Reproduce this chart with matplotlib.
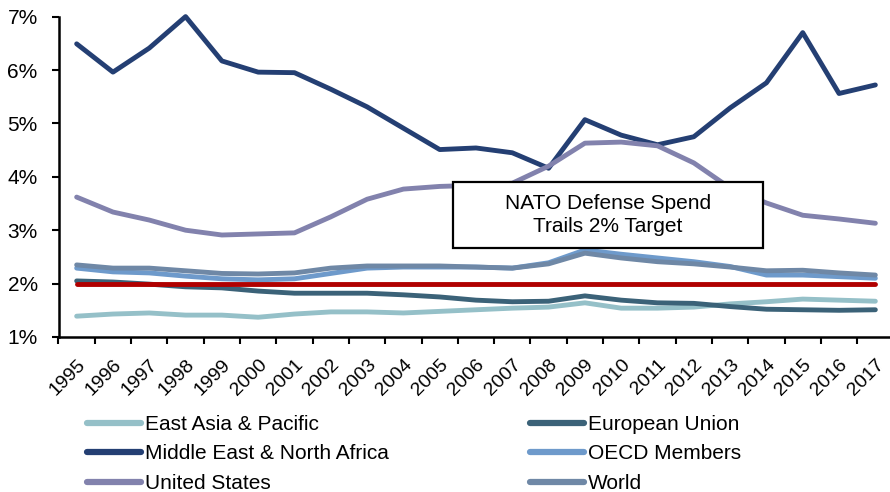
import matplotlib
matplotlib.use("Agg")
import matplotlib.pyplot as plt
from matplotlib.patches import Rectangle
from matplotlib.lines import Line2D
import numpy as np

plt.rcParams['font.family'] = ['Liberation Sans', 'DejaVu Sans']

years = list(range(1995, 2018))

east_asia = [1.39, 1.43, 1.45, 1.41, 1.41, 1.37, 1.43, 1.47, 1.47, 1.45, 1.48,
             1.51, 1.54, 1.56, 1.64, 1.54, 1.54, 1.56, 1.62, 1.66, 1.71, 1.69, 1.67]
eu = [2.05, 2.03, 1.99, 1.94, 1.92, 1.86, 1.82, 1.82, 1.82, 1.79, 1.75,
      1.69, 1.66, 1.67, 1.77, 1.69, 1.64, 1.63, 1.57, 1.52, 1.51, 1.50, 1.51]
mena = [6.49, 5.96, 6.41, 7.00, 6.17, 5.96, 5.95, 5.64, 5.31, 4.91, 4.51,
        4.54, 4.45, 4.16, 5.07, 4.78, 4.60, 4.75, 5.29, 5.76, 6.70, 5.56, 5.72]
oecd = [2.29, 2.22, 2.20, 2.14, 2.09, 2.07, 2.09, 2.19, 2.29, 2.31, 2.31,
        2.31, 2.29, 2.39, 2.63, 2.55, 2.48, 2.41, 2.32, 2.16, 2.16, 2.13, 2.10]
usa = [3.62, 3.34, 3.19, 3.00, 2.91, 2.93, 2.95, 3.25, 3.58, 3.77, 3.82,
       3.84, 3.88, 4.20, 4.63, 4.65, 4.58, 4.26, 3.79, 3.51, 3.28, 3.21, 3.13]
world = [2.35, 2.29, 2.29, 2.24, 2.19, 2.18, 2.20, 2.29, 2.33, 2.33, 2.33,
         2.31, 2.29, 2.37, 2.57, 2.48, 2.41, 2.37, 2.31, 2.24, 2.25, 2.20, 2.16]
nato_target = [2.0] * len(years)

series = [
    ("East Asia & Pacific", east_asia, "#95c0c8"),
    ("European Union", eu, "#3b6278"),
    ("Middle East & North Africa", mena, "#243f73"),
    ("OECD Members", oecd, "#6e9acb"),
    ("United States", usa, "#8282ad"),
    ("World", world, "#6f88a6"),
]

fig = plt.figure(figsize=(8.9, 4.92), dpi=100)
ax = fig.add_axes([58.5 / 890, 1 - 337 / 492, 835 / 890, (337 - 16.6) / 492])

x = np.arange(len(years))
for name, vals, col in series:
    ax.plot(x, vals, color=col, lw=3.5, solid_capstyle='round',
            solid_joinstyle='round', clip_on=False, label=name)
ax.plot(x, nato_target, color="#b00000", lw=3.5, solid_capstyle='round', clip_on=False)

ax.set_xlim(-0.5, len(years) - 0.5)
ax.set_ylim(1, 7)
ax.set_yticks(range(1, 8))
ax.set_yticklabels([f"{v}%" for v in range(1, 8)], fontsize=15)
ax.set_xticks(x)
ax.set_xticklabels(years, fontsize=14, rotation=45, ha='right', va='top',
                   rotation_mode='anchor')
ax.set_xticks(np.arange(-0.5, len(years)), minor=True)
ax.tick_params(axis='x', which='major', length=0, pad=14)
ax.tick_params(axis='x', which='minor', length=5, width=1.5, direction='out')
ax.tick_params(axis='y', length=5, width=1.5, pad=10)

for side in ('top', 'right'):
    ax.spines[side].set_visible(False)
for side in ('left', 'bottom'):
    ax.spines[side].set_linewidth(1.8)

# callout box
box = Rectangle((453 / 890, 1 - 248 / 492), 310 / 890, 66 / 492,
                transform=fig.transFigure, facecolor='white', edgecolor='black',
                lw=1.6, zorder=5)
fig.add_artist(box)
fig.text(608 / 890, 1 - 215 / 492, "NATO Defense Spend\nTrails 2% Target",
         ha='center', va='center', fontsize=15, linespacing=1.25, zorder=6)

# legend filled row by row (two columns)
order = [0, 2, 4, 1, 3, 5]
handles = [Line2D([], [], color=series[i][2], lw=4.5, solid_capstyle='round') for i in order]
labels = [series[i][0] for i in order]
fig.legend(handles, labels, ncol=2, frameon=False,
           loc='upper left', bbox_to_anchor=(87 / 890, 1 - 415 / 492),
           fontsize=15, handlelength=2.6, handletextpad=0.2,
           columnspacing=6.75, labelspacing=0.5, borderpad=0, borderaxespad=0)

fig.savefig("out.png", dpi=100, facecolor='white')
